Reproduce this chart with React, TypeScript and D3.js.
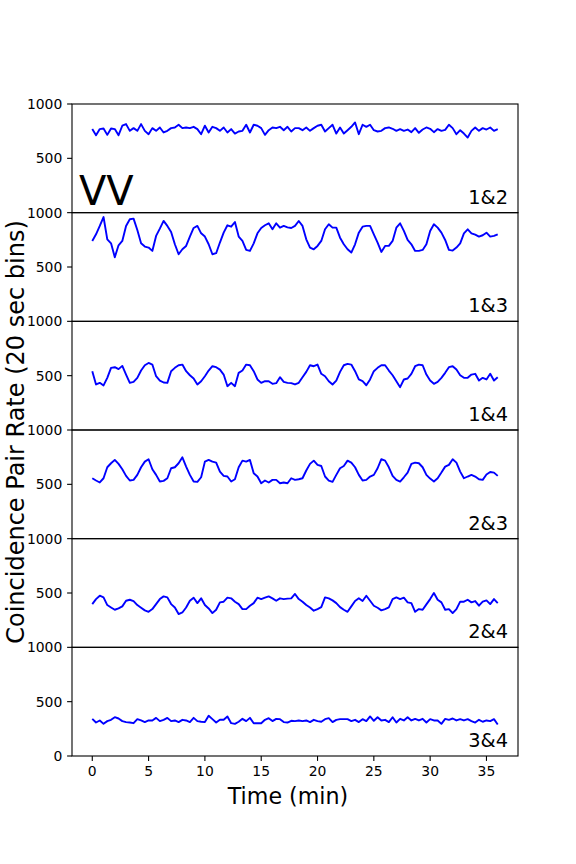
import React from "react";
import * as d3 from "d3";

// 20 sec bins, expressed in minutes
const BIN_MIN = 1 / 3;

const pairLabels = ["1&2", "1&3", "1&4", "2&3", "2&4", "3&4"];
const yTicks = [500, 1000];
const xTicks = [0, 5, 10, 15, 20, 25, 30, 35];

const pair12 = [
  769, 713, 769, 775, 716, 775, 769, 713, 800, 815,
  753, 778, 753, 815, 753, 722, 778, 753, 784, 738,
  753, 778, 784, 809, 778, 784, 778, 790, 769, 722,
  800, 738, 790, 778, 753, 784, 738, 769, 728, 747,
  753, 809, 738, 809, 800, 778, 716, 759, 784, 778,
  790, 759, 790, 747, 778,
  778, 759, 784, 753, 778, 800, 809, 747, 778, 809,
  728, 784, 728, 759, 790, 830, 722, 809, 790, 809,
  759, 747, 753, 778, 784, 772, 753, 769, 753, 765,
  741, 778, 735, 765, 784, 772, 741, 769, 753, 762,
  809, 778, 722, 759, 728, 691, 753, 784, 753, 778,
  765, 784, 753, 769,
];

const pair13 = [
  740, 801, 878, 960, 755, 718, 590, 700, 740, 878,
  939, 945, 841, 718, 688, 679, 648, 786, 853, 924,
  878, 823, 709, 617, 663, 694, 780, 859, 878, 810,
  780, 709, 617, 627, 725, 816, 884, 871, 914, 780,
  740, 657, 648, 718, 810, 859, 884, 902, 847, 902,
  862, 878, 865, 859, 878,
  923, 878, 755, 679, 663, 694, 740, 847, 893, 862,
  862, 770, 709, 663, 633, 709, 816, 871, 878, 878,
  801, 725, 639, 694, 694, 740, 862, 902, 832, 749,
  709, 648, 648, 657, 709, 832, 893, 862, 816, 749,
  657, 651, 679, 718, 810, 847, 810, 798, 780, 792,
  816, 780, 786, 801,
];

const pair14 = [
  541, 419, 434, 410, 480, 572, 578, 560, 590, 510,
  434, 443, 480, 547, 596, 617, 602, 495, 455, 437,
  434, 541, 572, 596, 602, 541, 504, 474, 419, 449,
  495, 547, 587, 578, 556, 510, 403, 434, 403, 526,
  547, 602, 596, 541, 465, 434, 449, 449, 425, 431,
  486, 443, 434, 431, 419,
  434, 486, 535, 596, 587, 602, 517, 495, 449, 419,
  455, 535, 596, 608, 602, 541, 465, 449, 412, 465,
  541, 572, 596, 596, 547, 504, 449, 394, 465, 474,
  517, 587, 602, 596, 510, 455, 425, 443, 480, 526,
  578, 587, 556, 504, 480, 480, 510, 517, 455, 480,
  465, 517, 455, 486,
];

const pair23 = [
  556, 535, 517, 556, 657, 694, 725, 688, 639, 578,
  535, 541, 587, 657, 709, 731, 639, 587, 526, 532,
  556, 648, 657, 694, 749, 663, 587, 526, 523, 565,
  709, 725, 709, 700, 617, 578, 572, 526, 547, 657,
  718, 709, 725, 602, 572, 510, 535, 517, 541, 541,
  510, 517, 510, 556, 541,
  547, 556, 627, 688, 718, 679, 669, 572, 535, 523,
  587, 648, 669, 718, 700, 657, 587, 535, 541, 572,
  587, 648, 731, 718, 657, 578, 541, 526, 565, 608,
  688, 700, 694, 657, 587, 553, 526, 556, 608, 663,
  679, 731, 700, 617, 556, 572, 587, 572, 547, 541,
  590, 614, 608, 578,
];

const pair24 = [
  398, 444, 475, 460, 389, 367, 346, 358, 377, 429,
  438, 426, 389, 364, 340, 327, 352, 398, 444, 469,
  460, 398, 367, 306, 321, 367, 429, 457, 407, 451,
  389, 358, 315, 346, 414, 420, 457, 451, 420, 398,
  352, 352, 383, 407, 457, 444, 457, 469, 451, 429,
  451, 444, 448, 451, 491,
  444, 420, 389, 367, 337, 352, 370, 460, 451, 432,
  407, 370, 346, 327, 377, 426, 451, 426, 475, 429,
  383, 364, 340, 352, 367, 444, 460, 444, 457, 414,
  407, 327, 352, 346, 395, 444, 500, 438, 414, 346,
  352, 315, 352, 420, 420, 438, 414, 426, 383, 420,
  432, 398, 444, 407,
];

const pair34 = [
  342, 308, 327, 296, 321, 333, 357, 345, 321, 312,
  308, 302, 339, 327, 312, 327, 327, 351, 321, 333,
  351, 321, 327, 312, 333, 327, 312, 351, 321, 315,
  312, 370, 339, 308, 333, 333, 364, 302, 296, 315,
  342, 321, 351, 302, 302, 302, 333, 348, 321, 342,
  339, 312, 308, 324, 321,
  327, 321, 327, 312, 333, 321, 315, 339, 348, 312,
  333, 339, 339, 339, 321, 333, 312, 339, 321, 364,
  324, 357, 327, 333, 312, 357, 308, 342, 327, 357,
  327, 342, 327, 342, 308, 339, 327, 327, 296, 342,
  333, 345, 327, 339, 327, 339, 321, 308, 333, 315,
  327, 321, 339, 290,
];

const series = [pair12, pair13, pair14, pair23, pair24, pair34];

const W = 576;
const H = 864;
const margin = { top: 104, right: 58, bottom: 108, left: 72 };
const FONT = "DejaVu Sans, sans-serif";

const App = () => {
  const plotW = W - margin.left - margin.right;
  const plotH = H - margin.top - margin.bottom;
  const panelH = plotH / series.length;

  const x = d3
    .scaleLinear()
    .domain([-1.8, 37.8])
    .range([margin.left, margin.left + plotW]);

  const line = (y: d3.ScaleLinear<number, number>) =>
    d3
      .line<number>()
      .x((_, i) => x(i * BIN_MIN))
      .y((d) => y(d));

  return (
    <svg
      width={W}
      height={H}
      style={{ position: "absolute", left: 0, top: 0, background: "#fff" }}
      fontFamily={FONT}
    >
      <rect width={W} height={H} fill="#fff" />
      {series.map((vals, k) => {
        const top = margin.top + k * panelH;
        const bottom = top + panelH;
        const y = d3.scaleLinear().domain([0, 1000]).range([bottom, top]);
        const ticks = k === series.length - 1 ? [0, ...yTicks] : yTicks;
        return (
          <g key={k}>
            <path
              d={line(y)(vals) || ""}
              fill="none"
              stroke="#0000ff"
              strokeWidth={1.9}
              strokeLinejoin="round"
            />
            {ticks.map((t) => (
              <g key={t}>
                <line
                  x1={margin.left - 4.9}
                  x2={margin.left}
                  y1={y(t)}
                  y2={y(t)}
                  stroke="#000"
                  strokeWidth={1.1}
                />
                <text
                  x={margin.left - 9.7}
                  y={y(t)}
                  dy="0.36em"
                  textAnchor="end"
                  fontSize={13.9}
                >
                  {t}
                </text>
              </g>
            ))}
            <text
              x={margin.left + plotW - 10}
              y={bottom - 9}
              textAnchor="end"
              fontSize={19.4}
            >
              {pairLabels[k]}
            </text>
            <rect
              x={margin.left}
              y={top}
              width={plotW}
              height={panelH}
              fill="none"
              stroke="#000"
              strokeWidth={1.1}
            />
          </g>
        );
      })}

      {/* x axis on the bottom panel */}
      {xTicks.map((t) => (
        <g key={t}>
          <line
            x1={x(t)}
            x2={x(t)}
            y1={margin.top + plotH}
            y2={margin.top + plotH + 4.9}
            stroke="#000"
            strokeWidth={1.1}
          />
          <text
            x={x(t)}
            y={margin.top + plotH + 9.7}
            dy="0.76em"
            textAnchor="middle"
            fontSize={13.9}
          >
            {t}
          </text>
        </g>
      ))}

      <text x={79} y={205} fontSize={40}>
        VV
      </text>

      <text x={W / 2} y={804} textAnchor="middle" fontSize={22.2}>
        Time (min)
      </text>
      <text
        transform={`translate(24,${H / 2}) rotate(-90)`}
        textAnchor="middle"
        fontSize={24}
      >
        Coincidence Pair Rate (20 sec bins)
      </text>
    </svg>
  );
};

export default App;
